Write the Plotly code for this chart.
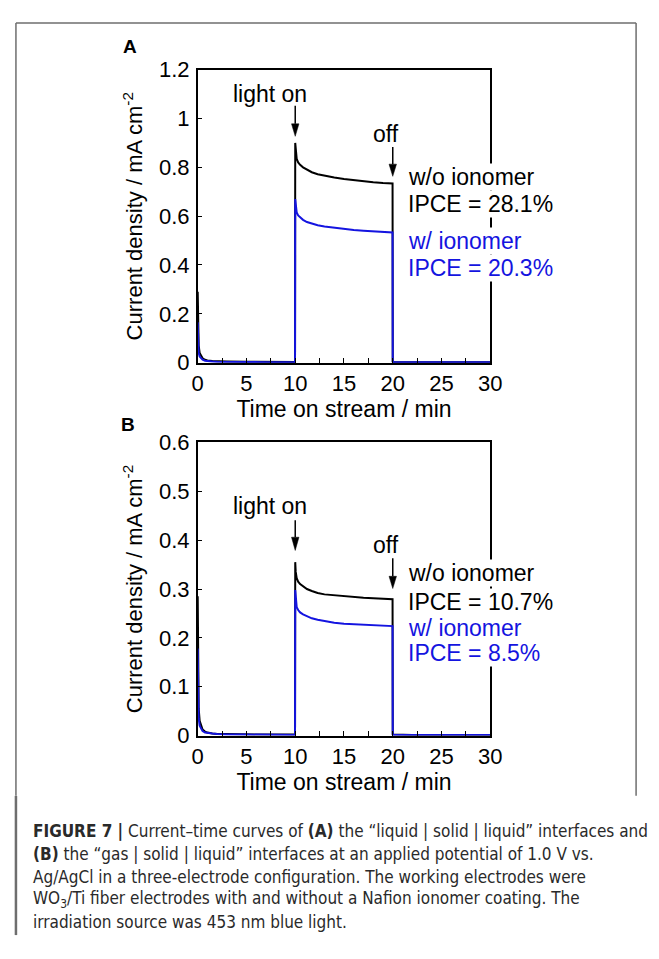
import plotly.graph_objects as go

# ---------------- data ----------------
time_min = [0, 0.05, 0.1, 0.2, 0.35, 0.5, 0.75, 1, 1.5, 2, 3, 5, 7, 9.98,
            10.0, 10.05, 10.15, 10.3, 10.5, 10.8, 11.2, 11.7, 12.3, 13, 14, 15,
            16, 17, 18, 19, 19.98, 20.0, 20.1, 22, 25, 30]

a_without = [0.29, 0.12, 0.07, 0.04, 0.025, 0.018, 0.012, 0.009, 0.007, 0.006, 0.005, 0.004, 0.004, 0.003,
             0.90, 0.86, 0.835, 0.82, 0.81, 0.80, 0.79, 0.78, 0.772, 0.765, 0.758, 0.752,
             0.747, 0.743, 0.739, 0.736, 0.734, 0.005, 0.003, 0.002, 0.002, 0.002]
a_with = [0.165, 0.07, 0.04, 0.025, 0.016, 0.012, 0.008, 0.006, 0.005, 0.004, 0.003, 0.003, 0.002, 0.002,
          0.67, 0.635, 0.615, 0.603, 0.594, 0.585, 0.576, 0.569, 0.563, 0.558, 0.552, 0.547,
          0.543, 0.540, 0.537, 0.535, 0.533, 0.004, 0.003, 0.002, 0.002, 0.002]

b_without = [0.285, 0.10, 0.055, 0.03, 0.018, 0.012, 0.008, 0.006, 0.004, 0.003, 0.003, 0.002, 0.002, 0.002,
             0.355, 0.335, 0.322, 0.315, 0.310, 0.305, 0.300, 0.296, 0.292, 0.289, 0.287, 0.285,
             0.283, 0.282, 0.281, 0.280, 0.279, 0.003, 0.002, 0.001, 0.001, 0.001]
b_with = [0.178, 0.06, 0.035, 0.02, 0.013, 0.009, 0.006, 0.005, 0.004, 0.003, 0.002, 0.002, 0.001, 0.001,
          0.298, 0.275, 0.263, 0.257, 0.252, 0.248, 0.244, 0.240, 0.237, 0.234, 0.231, 0.229,
          0.228, 0.227, 0.226, 0.225, 0.224, 0.002, 0.001, 0.001, 0.001, 0.001]

x_ticks = [0, 5, 10, 15, 20, 25, 30]
ya_ticks = [0, 0.2, 0.4, 0.6, 0.8, 1, 1.2]
yb_ticks = [0, 0.1, 0.2, 0.3, 0.4, 0.5, 0.6]

light_on_min = 10
light_off_min = 20

ipce_a = ["28.1%", "20.3%"]
ipce_b = ["10.7%", "8.5%"]

caption_lines = [
    "<b>FIGURE 7 |</b> Current–time curves of <b>(A)</b> the “liquid | solid | liquid” interfaces and",
    "<b>(B)</b> the “gas | solid | liquid” interfaces at an applied potential of 1.0 V vs.",
    "Ag/AgCl in a three-electrode configuration. The working electrodes were",
    "WO<sub>3</sub>/Ti fiber electrodes with and without a Nafion ionomer coating. The",
    "irradiation source was 453 nm blue light.",
]

# ---------------- page geometry ----------------
PAGE_W, PAGE_H = 659, 959
BODY = 8                      # default page margin around the plot div
W, H = PAGE_W - 2 * BODY, PAGE_H - 2 * BODY

FONT = "Liberation Sans, Arial, Helvetica, sans-serif"
CAP_FONT = "DejaVu Sans Condensed, Liberation Sans Narrow, Arial Narrow, sans-serif"
BLACK = "#000000"
BLUE = "#1414e0"


def px(x):
    """page pixel -> paper x"""
    return (x - BODY) / W


def py(y):
    """page pixel -> paper y"""
    return 1 - (y - BODY) / H


fig = go.Figure()

fig.add_trace(go.Scatter(x=time_min, y=a_without, mode="lines", line=dict(color=BLACK, width=2),
                         xaxis="x", yaxis="y", showlegend=False, name="w/o ionomer"))
fig.add_trace(go.Scatter(x=time_min, y=a_with, mode="lines", line=dict(color=BLUE, width=2),
                         xaxis="x", yaxis="y", showlegend=False, name="w/ ionomer"))
fig.add_trace(go.Scatter(x=time_min, y=b_without, mode="lines", line=dict(color=BLACK, width=2),
                         xaxis="x2", yaxis="y2", showlegend=False, name="w/o ionomer"))
fig.add_trace(go.Scatter(x=time_min, y=b_with, mode="lines", line=dict(color=BLUE, width=2),
                         xaxis="x2", yaxis="y2", showlegend=False, name="w/ ionomer"))

common_x = dict(range=[0, 30], tickvals=x_ticks, ticks="inside", ticklen=5, tickwidth=1.3,
                tickcolor=BLACK, minor=dict(dtick=2.5, tick0=0, ticks="inside", ticklen=5, tickwidth=1.3,
                                            tickcolor=BLACK),
                showline=True, linecolor=BLACK, linewidth=1.5, mirror=True, showgrid=False,
                zeroline=False, tickfont=dict(size=22, color=BLACK, family=FONT),
                ticklabelstandoff=0,
                title=dict(text="Time on stream / min", font=dict(size=23, color=BLACK, family=FONT),
                           standoff=2))
common_y = dict(ticks="inside", ticklen=5, tickwidth=1.3, tickcolor=BLACK,
                showline=True, linecolor=BLACK, linewidth=1.5, mirror=True, showgrid=False,
                zeroline=False, tickfont=dict(size=22, color=BLACK, family=FONT),
                ticklabelstandoff=2,
                title=dict(text="Current density / mA cm<sup>-2</sup>",
                           font=dict(size=22, color=BLACK, family=FONT), standoff=10))

fig.update_layout(
    width=W, height=H, autosize=False,
    margin=dict(l=0, r=0, t=0, b=0),
    paper_bgcolor="white", plot_bgcolor="white",
    font=dict(family=FONT, color=BLACK),
    xaxis=dict(domain=[px(197), px(498)], anchor="y", **common_x),
    yaxis=dict(domain=[py(360), py(59)], anchor="x", range=[0, 1.2], tickvals=ya_ticks, **common_y),
    xaxis2=dict(domain=[px(197), px(498)], anchor="y2", **common_x),
    yaxis2=dict(domain=[py(743), py(442)], anchor="x2", range=[0, 0.6], tickvals=yb_ticks, **common_y),
)

ann = []
shapes = []
# panel letters
ann.append(dict(text="<b>A</b>", x=px(127), y=py(35), xref="paper", yref="paper", showarrow=False,
                xanchor="center", yanchor="middle",
                font=dict(size=19, family=FONT, color=BLACK)))
ann.append(dict(text="<b>B</b>", x=px(125), y=py(424), xref="paper", yref="paper", showarrow=False,
                xanchor="center", yanchor="middle",
                font=dict(size=19, family=FONT, color=BLACK)))


def arrow(xr, yr, xv, tail, base, tip, half_w=0.38):
    shapes.append(dict(type="line", xref=xr, yref=yr, x0=xv, x1=xv, y0=tail, y1=base,
                       line=dict(color=BLACK, width=1.5)))
    shapes.append(dict(type="path", xref=xr, yref=yr,
                       path=f"M {xv - half_w} {base} L {xv + half_w} {base} L {xv} {tip} Z",
                       fillcolor=BLACK, line=dict(color=BLACK, width=0.5)))


def panel_annotations(xr, yr, light_y, off_y, label_ys, ipce):
    txt = dict(size=23, family=FONT)
    ann.append(dict(text="light on", x=7.45, y=light_y, xref=xr, yref=yr, showarrow=False,
                    xanchor="center", yanchor="middle", font=dict(color=BLACK, **txt)))
    ann.append(dict(text="off", x=19.35, y=off_y, xref=xr, yref=yr, showarrow=False,
                    xanchor="center", yanchor="middle", font=dict(color=BLACK, **txt)))
    labels = ["w/o ionomer", "IPCE = " + ipce[0], "w/ ionomer", "IPCE = " + ipce[1]]
    colors = [BLACK, BLACK, BLUE, BLUE]
    for lab, col, yy in zip(labels, colors, label_ys):
        ann.append(dict(text=lab, x=21.45, y=yy, xref=xr, yref=yr, showarrow=False,
                        xanchor="left", yanchor="middle", bgcolor="white", borderpad=0,
                        font=dict(color=col, **txt)))


panel_annotations("x", "y", 1.10, 0.936, [0.76, 0.648, 0.50, 0.388], ipce_a)
arrow("x", "y", light_on_min, 1.052, 0.978, 0.927)
arrow("x", "y", light_off_min, 0.883, 0.813, 0.763)

panel_annotations("x2", "y2", 0.47, 0.39, [0.332, 0.274, 0.22, 0.168], ipce_b)
arrow("x2", "y2", light_on_min, 0.441, 0.406, 0.379)
arrow("x2", "y2", light_off_min, 0.363, 0.326, 0.301)

# caption
cap_y0 = 841
cap_dy = 23.5
for i, line in enumerate(caption_lines):
    ann.append(dict(text=line, x=px(25), y=py(cap_y0 + i * cap_dy), xref="paper", yref="paper",
                    xanchor="left", yanchor="middle", showarrow=False,
                    font=dict(size=17, family=CAP_FONT, color="#2a2a2a")))

# frame around the figure and caption bar
FRAME = "#6e6e6e"
shapes += [
    dict(type="line", xref="paper", yref="paper", x0=px(10), x1=px(648), y0=py(11), y1=py(11),
         line=dict(color=FRAME, width=1.5)),
    dict(type="line", xref="paper", yref="paper", x0=px(648), x1=px(648), y0=py(11), y1=py(805),
         line=dict(color=FRAME, width=1.5)),
    dict(type="line", xref="paper", yref="paper", x0=px(10), x1=px(10), y0=py(11), y1=py(805),
         line=dict(color=FRAME, width=1.5)),
    dict(type="line", xref="paper", yref="paper", x0=px(10), x1=px(10), y0=py(805), y1=py(948),
         line=dict(color=FRAME, width=2.5)),
]

fig.update_layout(annotations=ann, shapes=shapes)

fig.write_html("out.html", config={"displayModeBar": False})
